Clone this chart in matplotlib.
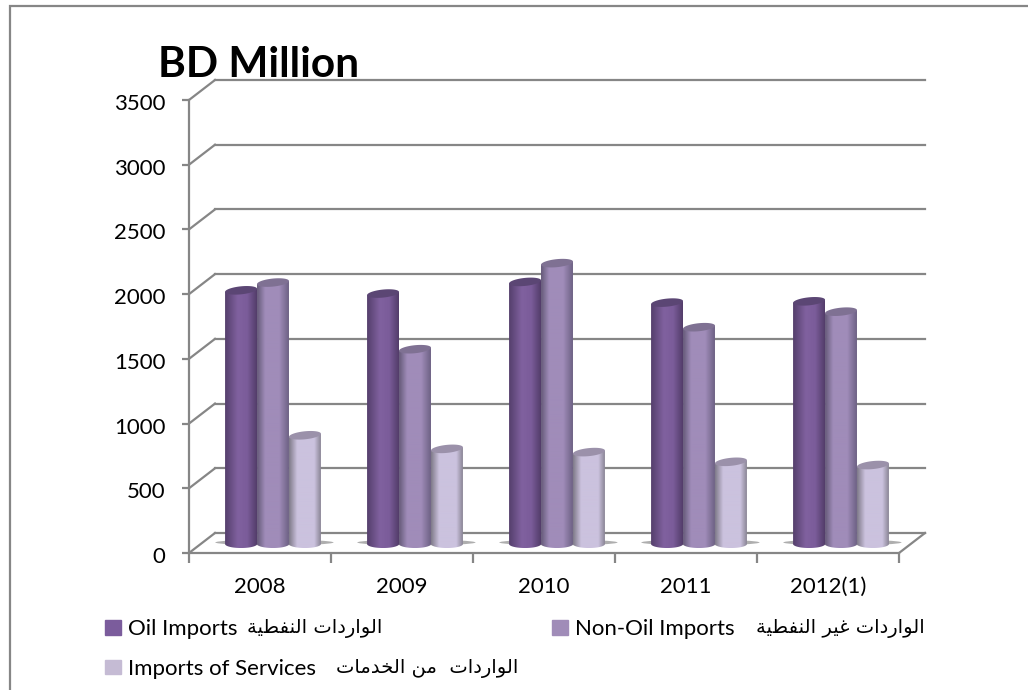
import numpy as np
import matplotlib
matplotlib.use("Agg")
import matplotlib.pyplot as plt
from matplotlib.colors import LinearSegmentedColormap
from matplotlib.lines import Line2D
from matplotlib.patches import Ellipse, Patch, PathPatch, Rectangle
from matplotlib.path import Path
from matplotlib.transforms import ScaledTranslation

plt.rcParams["font.family"] = ["Lato", "DejaVu Sans"]

years = ["2008", "2009", "2010", "2011", "2012(1)"]
oil_imports = [1960, 1935, 2025, 1865, 1875]
non_oil_imports = [2020, 1505, 2170, 1675, 1795]
services_imports = [840, 735, 710, 635, 610]
y_ticks = [0, 500, 1000, 1500, 2000, 2500, 3000, 3500]
legend_latin = ["Oil Imports", "Imports of Services", "Non-Oil Imports"]
legend_arabic = ["الواردات النفطية", "الواردات  من الخدمات", "الواردات غير النفطية"]

DPI = 100
W, H = 1028, 690
BAR_W = 0.225
DEPTH = (26, 20)


# matplotlib has no arabic shaping, so pick the presentation forms by hand
FORMS = {
    "ا": "\ufe8d\ufe8e\ufe8d\ufe8e", "ل": "\ufedd\ufede\ufedf\ufee0",
    "و": "\ufeed\ufeee\ufeed\ufeee", "ر": "\ufead\ufeae\ufead\ufeae",
    "د": "\ufea9\ufeaa\ufea9\ufeaa", "ت": "\ufe95\ufe96\ufe97\ufe98",
    "ن": "\ufee5\ufee6\ufee7\ufee8", "ف": "\ufed1\ufed2\ufed3\ufed4",
    "ط": "\ufec1\ufec2\ufec3\ufec4", "ي": "\ufef1\ufef2\ufef3\ufef4",
    "ة": "\ufe93\ufe94\ufe93\ufe94", "غ": "\ufecd\ufece\ufecf\ufed0",
    "م": "\ufee1\ufee2\ufee3\ufee4", "خ": "\ufea5\ufea6\ufea7\ufea8",
}
NO_LEFT_JOIN = "اودرة"


def shape_arabic(text):
    out = []
    for i, ch in enumerate(text):
        if ch not in FORMS:
            out.append(ch)
            continue
        prev_ch = text[i - 1] if i else " "
        next_ch = text[i + 1] if i + 1 < len(text) else " "
        joins_prev = prev_ch in FORMS and prev_ch not in NO_LEFT_JOIN
        joins_next = next_ch in FORMS and ch not in NO_LEFT_JOIN
        out.append(FORMS[ch][joins_prev + 2 * joins_next])
    return "".join(reversed(out))


def draw_cylinder(ax, trans, x, value, colors, top_color, z):
    cap = 31
    tilt = 12
    t = np.linspace(0, 2 * np.pi, 80)
    cx = x + BAR_W / 2
    half = t <= np.pi
    xs = cx + BAR_W / 2 * np.cos(t[half])
    ys = -cap * np.sin(t[half])
    verts = [(x + BAR_W, value + tilt)] + list(zip(xs, ys)) + [(x, value - tilt), (x + BAR_W, value + tilt)]
    outline = PathPatch(Path(verts), transform=trans, fc="none", ec="none")
    ax.add_patch(outline)
    cmap = LinearSegmentedColormap.from_list("cyl", colors)
    grad = np.linspace(0, 1, 64).reshape(1, -1)
    im = ax.imshow(grad, cmap=cmap, aspect="auto", zorder=z, transform=trans,
                   extent=(x, x + BAR_W, -cap, value + tilt))
    im.set_clip_path(outline)
    # top cap leans a little, right side higher
    ax.fill(cx + BAR_W / 2 * np.cos(t), value + cap * np.sin(t) + tilt * np.cos(t),
            transform=trans, fc=top_color, ec="none", zorder=z + 0.1, clip_on=False)


fig = plt.figure(figsize=(W / DPI, H / DPI), dpi=DPI)
ax = fig.add_axes([189 / W, 1 - 553 / H, 710 / W, 453 / H])
ax.set_xlim(0, 5)
ax.set_ylim(0, 3500)

# outer frame runs off the right and bottom of the picture
fig.add_artist(Rectangle((10 / W, -0.05), 1.1, 1.05 - 6 / H, transform=fig.transFigure,
                         fc="none", ec="#868686", lw=1.6))

back = ax.transData + ScaledTranslation(DEPTH[0] / DPI, DEPTH[1] / DPI, fig.dpi_scale_trans)
mid = ax.transData + ScaledTranslation(13 / DPI, 9 / DPI, fig.dpi_scale_trans)

grid = "#868686"
for v in y_ticks:
    ax.plot([0, 5], [v, v], transform=back, color=grid, lw=1.6, clip_on=False, zorder=1)
    # diagonal from the front axis to the back wall
    p0 = ax.transData.transform((0, v))
    p1 = back.transform((0, v))
    fig.add_artist(Line2D([p0[0] / W, p1[0] / W], [p0[1] / H, p1[1] / H], color=grid, lw=1.6, zorder=1))

p0 = ax.transData.transform((5, 0))
p1 = back.transform((5, 0))
fig.add_artist(Line2D([p0[0] / W, p1[0] / W], [p0[1] / H, p1[1] / H], color=grid, lw=1.6, zorder=1))

gradients = [
    ([(0, "#553f6c"), (0.4, "#80619f"), (0.7, "#7b5c9a"), (1, "#533d6a")], "#5b4674"),
    ([(0, "#665b7a"), (0.25, "#a08cb9"), (0.7, "#a08cb9"), (1, "#6e6285")], "#7f7193"),
    ([(0, "#807b8a"), (0.25, "#cbc2de"), (0.8, "#cbc2de"), (1, "#8b8696")], "#9b91aa"),
]
all_series = [oil_imports, non_oil_imports, services_imports]
for i, year in enumerate(years):
    for j, series in enumerate(all_series):
        x = i + 0.5 + (j - 1.5) * BAR_W
        colors, top = gradients[j]
        # shadow on the floor, seen only at the sides of the group
        if j == 1:
            ax.add_patch(Ellipse((i + 0.51, 12), BAR_W * 3.7, 44, transform=mid, fc="#8c8c8c",
                                 ec="none", alpha=0.7, zorder=2, clip_on=False))
        draw_cylinder(ax, mid, x, series[i], colors, top, 3 + j)

ax.set_xlim(0, 5)
ax.set_ylim(0, 3500)
ax.patch.set_visible(False)
for side in ["top", "right"]:
    ax.spines[side].set_visible(False)
for side in ["left", "bottom"]:
    ax.spines[side].set_color(grid)
    ax.spines[side].set_linewidth(1.6)

ax.set_yticks(y_ticks)
ax.set_xticks(range(6))
ax.set_xticklabels([])
ax.set_xticks(np.arange(5) + 0.5, labels=years, minor=True)
ax.tick_params(axis="y", length=5, width=1.6, color=grid, labelsize=16, pad=12)
ax.tick_params(axis="x", which="major", length=7, width=1.6, color=grid)
ax.tick_params(axis="x", which="minor", length=0, labelsize=16, pad=17)
for label in ax.get_yticklabels():
    label.set_transform(label.get_transform() + ScaledTranslation(0, -2 / DPI, fig.dpi_scale_trans))

fig.text(158 / W, 1 - 77 / H, "BD Million", fontsize=30.5, fontweight="bold", color="black")

legend_colors = ["#7b5c9c", "#c5bbd4", "#a08cb8"]
arabic_right = [382, 518, 925]
arabic_y = [629, 669, 629]
legend_handles = [Patch(color=c, label=s) for c, s in zip(legend_colors, legend_latin)]
fig.legend(handles=legend_handles, ncol=2, frameon=False, fontsize=16,
           loc="upper left", bbox_to_anchor=(105 / W, 1 - 619 / H),
           handlelength=0.72, handleheight=0.65, handletextpad=0.32,
           columnspacing=10.6, labelspacing=0.89, borderpad=0, borderaxespad=0)
for s, xr, yc in zip(legend_arabic, arabic_right, arabic_y):
    fig.text(xr / W, 1 - yc / H, shape_arabic(s), fontsize=14, ha="right", va="center",
             family="DejaVu Sans", color="black")

fig.savefig("out.png", dpi=DPI)
